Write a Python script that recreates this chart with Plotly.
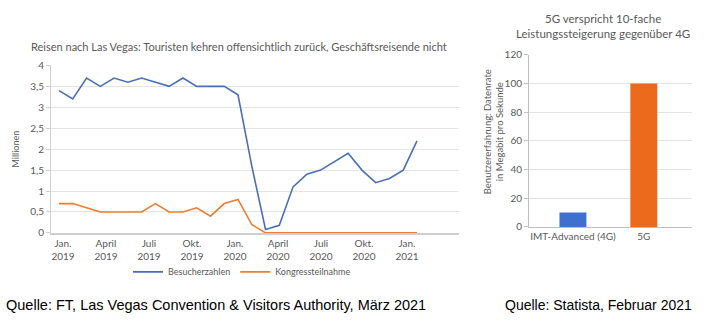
import plotly.graph_objects as go

# ---------------- data ----------------
months = list(range(27))  # Jan 2019 .. Mar 2021
besucher = [3.4, 3.2, 3.7, 3.5, 3.7, 3.6, 3.7, 3.6, 3.5, 3.7, 3.5, 3.5, 3.5, 3.3,
            1.6, 0.08, 0.18, 1.1, 1.4, 1.5, 1.7, 1.9, 1.5, 1.2, 1.3, 1.5, 2.2]
kongress = [0.7, 0.7, 0.6, 0.5, 0.5, 0.5, 0.5, 0.7, 0.5, 0.5, 0.6, 0.4, 0.7, 0.8,
            0.2, 0, 0, 0, 0, 0, 0, 0, 0, 0, 0, 0, 0]
tick_labels = ["Jan.<br>2019", "April<br>2019", "Juli<br>2019", "Okt.<br>2019",
               "Jan.<br>2020", "April<br>2020", "Juli<br>2020", "Okt.<br>2020",
               "Jan.<br>2021"]
y_ticks_left = [0, 0.5, 1, 1.5, 2, 2.5, 3, 3.5, 4]

bar_cats = ["IMT-Advanced (4G)", "5G"]
bar_vals = [10, 100]

# ---------------- styles ----------------
W, H = 706, 328
FONT = "Lato"
GRAY = "#595959"
GRID = "#e4e4e4"
BLUE = "#4a6fb7"
ORANGE = "#ed7d31"
BAR_BLUE = "#3f6fcf"
BAR_ORANGE = "#ec6a1c"

def px_x(p):
    return p / W

def px_y(p):
    return 1 - p / H

fig = go.Figure()

fig.add_trace(go.Scatter(x=months, y=besucher, mode="lines", name="Besucherzahlen",
                         line=dict(color=BLUE, width=1.6), xaxis="x", yaxis="y"))
fig.add_trace(go.Scatter(x=months, y=kongress, mode="lines", name="Kongressteilnahme",
                         line=dict(color=ORANGE, width=1.6), xaxis="x", yaxis="y"))

fig.add_trace(go.Bar(x=bar_cats, y=bar_vals, marker=dict(color=[BAR_BLUE, BAR_ORANGE], line=dict(width=0)),
                     width=0.38, showlegend=False, xaxis="x2", yaxis="y2"))

# tick positions (labels sit slightly right of the monthly points, as in the source)
tick_pos = [0.29 + 3.123 * k for k in range(len(tick_labels))]

fig.update_layout(
    width=W, height=H,
    margin=dict(l=0, r=0, t=0, b=0),
    paper_bgcolor="white", plot_bgcolor="white",
    separators=", ",
    font=dict(family=FONT, color=GRAY, size=10),
    showlegend=True,
    legend=dict(orientation="h", x=px_x(242), xanchor="center", y=px_y(276), yanchor="middle",
                font=dict(size=9, color=GRAY), bgcolor="rgba(0,0,0,0)"),
    xaxis=dict(domain=[px_x(51), px_x(459)], range=[-0.58, 29.05],
               tickvals=tick_pos, ticktext=tick_labels, tickfont=dict(size=10, color=GRAY),
               showgrid=False, zeroline=False, showline=True, linecolor="#cfcfcf", linewidth=2,
               ticks="", anchor="y"),
    yaxis=dict(domain=[px_y(235.5), px_y(61.7)], range=[0, 4],
               tickvals=y_ticks_left, tickfont=dict(size=10, color=GRAY),
               showgrid=True, gridcolor=GRID, gridwidth=1, zeroline=False,
               showline=True, linecolor="#cfcfcf", linewidth=1,
               ticks="outside", ticklen=4, tickcolor="#cfcfcf",
               title=dict(text="Millionen", font=dict(size=9, color=GRAY), standoff=8),
               anchor="x"),
    xaxis2=dict(domain=[px_x(529), px_x(692)], range=[-0.62, 1.68], type="category",
                tickfont=dict(size=10, color=GRAY), showgrid=False, zeroline=False,
                showline=True, linecolor="#bfbfbf", linewidth=1, ticks="", anchor="y2"),
    yaxis2=dict(domain=[px_y(229.3), px_y(50.7)], range=[0, 120], dtick=20,
                tickfont=dict(size=10, color=GRAY),
                showgrid=True, gridcolor=GRID, gridwidth=1, zeroline=False,
                showline=True, linecolor="#bfbfbf", linewidth=1,
                ticks="outside", ticklen=4, tickcolor="#bfbfbf", anchor="x2"),
    annotations=[
        dict(text="Reisen nach Las Vegas: Touristen kehren offensichtlich zurück, Geschäftsreisende nicht",
             x=px_x(239), y=px_y(42), xref="paper", yref="paper", showarrow=False,
             xanchor="center", yanchor="middle", font=dict(size=11, color=GRAY, family=FONT)),
        dict(text="5G verspricht 10-fache",
             x=px_x(603), y=px_y(12.5), xref="paper", yref="paper", showarrow=False,
             xanchor="center", yanchor="middle", font=dict(size=11.5, color=GRAY, family=FONT)),
        dict(text="Leistungssteigerung gegenüber 4G",
             x=px_x(603), y=px_y(28.5), xref="paper", yref="paper", showarrow=False,
             xanchor="center", yanchor="middle", font=dict(size=11.5, color=GRAY, family=FONT)),
        dict(text="Benutzererfahrung: Datenrate<br>in Megabit pro Sekunde",
             x=px_x(493), y=px_y(130), xref="paper", yref="paper", showarrow=False,
             textangle=-90, xanchor="center", yanchor="middle",
             font=dict(size=9.5, color=GRAY, family=FONT)),
        dict(text="Quelle: FT, Las Vegas Convention &amp; Visitors Authority, März 2021",
             x=px_x(4), y=px_y(310), xref="paper", yref="paper", showarrow=False,
             xanchor="left", yanchor="middle",
             font=dict(size=14.5, color="#000000", family="Liberation Sans")),
        dict(text="Quelle: Statista, Februar 2021",
             x=px_x(503), y=px_y(310), xref="paper", yref="paper", showarrow=False,
             xanchor="left", yanchor="middle",
             font=dict(size=14, color="#000000", family="Liberation Sans")),
    ],
)

fig.write_html("out.html")
